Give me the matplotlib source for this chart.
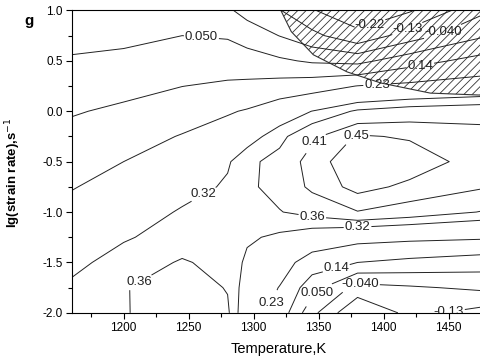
import matplotlib
matplotlib.use('Agg')
import matplotlib.pyplot as plt
from matplotlib.ticker import MultipleLocator, FormatStrFormatter
import numpy as np

plt.rcParams['font.family'] = ['Liberation Sans', 'DejaVu Sans']
plt.rcParams['axes.unicode_minus'] = False
plt.rcParams['hatch.linewidth'] = 0.6

# grid of the map: temperature (K) columns, lg(strain rate) rows
temperature = [1160, 1200, 1245, 1280, 1295, 1320, 1345, 1380, 1420, 1475]
lg_rate = [-2.0, -1.75, -1.5, -1.25, -1.0, -0.75, -0.5, -0.25, 0.0, 0.25, 0.5, 0.75, 1.0]

# g values, one list per strain-rate row
g_m200 = [0.345, 0.356, 0.392, 0.368, 0.278, 0.200, -0.014, -0.220, -0.104, -0.161]
g_m175 = [0.330, 0.357, 0.386, 0.357, 0.294, 0.227, 0.089, -0.073, -0.051, -0.024]
g_m150 = [0.305, 0.343, 0.363, 0.350, 0.310, 0.268, 0.189, 0.140, 0.119, 0.095]
g_m125 = [0.279, 0.314, 0.344, 0.342, 0.327, 0.311, 0.289, 0.262, 0.251, 0.242]
g_m100 = [0.253, 0.286, 0.326, 0.334, 0.342, 0.358, 0.376, 0.408, 0.389, 0.358]
g_m075 = [0.226, 0.258, 0.298, 0.327, 0.352, 0.375, 0.420, 0.465, 0.440, 0.415]
g_m050 = [0.196, 0.230, 0.266, 0.314, 0.350, 0.375, 0.430, 0.480, 0.475, 0.430]
g_m025 = [0.165, 0.193, 0.235, 0.269, 0.296, 0.347, 0.400, 0.455, 0.445, 0.425]
g_p000 = [0.133, 0.155, 0.188, 0.222, 0.237, 0.282, 0.321, 0.367, 0.384, 0.393]
g_p025 = [0.096, 0.114, 0.139, 0.153, 0.159, 0.175, 0.193, 0.232, 0.250, 0.268]
g_p050 = [0.059, 0.071, 0.095, 0.097, 0.088, 0.064, 0.038, 0.024, 0.102, 0.172]
g_p075 = [0.022, 0.028, 0.050, 0.042, 0.013, -0.042, -0.104, -0.200, -0.085, 0.038]
g_p100 = [-0.015, -0.016, 0.006, -0.025, -0.074, -0.125, -0.215, -0.270, -0.230, -0.060]

levels = [-0.22, -0.13, -0.04, 0.05, 0.14, 0.23, 0.32, 0.36, 0.41, 0.45]
level_text = {-0.22: '-0.22', -0.13: '-0.13', -0.04: '-0.040', 0.05: '0.050',
              0.14: '0.14', 0.23: '0.23', 0.32: '0.32', 0.36: '0.36',
              0.41: '0.41', 0.45: '0.45'}

# where each contour label sits (level, T, lg)
label_level = [0.05, -0.22, -0.13, -0.04, 0.14, 0.23, 0.41, 0.45, 0.32,
               0.36, 0.36, 0.32, 0.14, 0.05, -0.04, -0.13, 0.23]
label_T = [1260, 1390, 1418, 1444, 1428, 1395, 1344, 1378, 1260,
           1208, 1345, 1380, 1362, 1342, 1382, 1450, 1303]
label_lg = [0.76, 0.84, 0.83, 0.83, 0.48, 0.28, -0.27, -0.21, -0.79,
            -1.6, -1.07, -1.15, -1.48, -1.70, -1.69, -1.97, -1.84]

# instability (hatched) domain outline
hatch_T = [1321, 1329, 1346, 1372, 1398, 1436, 1475, 1475]
hatch_lg = [1.0, 0.79, 0.56, 0.39, 0.28, 0.18, 0.16, 1.0]

g = np.array([g_m200, g_m175, g_m150, g_m125, g_m100, g_m075, g_m050,
              g_m025, g_p000, g_p025, g_p050, g_p075, g_p100])

fig = plt.figure(figsize=(4.81, 3.6), dpi=100)
ax = fig.add_axes([0.149, 0.131, 0.851, 0.840])

# one contour set per level so each label snaps to its own line
for lev in levels:
    cs = ax.contour(temperature, lg_rate, g, levels=[lev], colors='#222222',
                    linewidths=0.7, linestyles='solid')
    spots = [(t, r) for l, t, r in zip(label_level, label_T, label_lg) if l == lev]
    if spots:
        cs.clabel(manual=spots, fmt=level_text, fontsize=9.5,
                  inline=True, inline_spacing=1)
for txt in ax.texts:
    txt.set_rotation(0)

ax.fill(hatch_T, hatch_lg, facecolor='none', edgecolor='#333333',
        hatch='////', linewidth=0.8)

ax.set_xlim(1160, 1475)
ax.set_ylim(-2.0, 1.0)
ax.xaxis.set_major_locator(MultipleLocator(50))
ax.xaxis.set_minor_locator(MultipleLocator(25))
ax.yaxis.set_major_locator(MultipleLocator(0.5))
ax.yaxis.set_minor_locator(MultipleLocator(0.25))
ax.yaxis.set_major_formatter(FormatStrFormatter('%.1f'))
ax.tick_params(which='both', direction='out', top=False, right=False,
               labelsize=8.5, width=0.8, pad=2.5)
ax.tick_params(which='major', length=4)
ax.tick_params(which='minor', length=3)
ax.spines['right'].set_visible(False)
for s in ['left', 'bottom', 'top']:
    ax.spines[s].set_linewidth(0.8)

ax.set_xlabel('Temperature,K', fontsize=10.5)
ax.xaxis.set_label_coords(0.506, -0.095)
ax.set_ylabel('lg(strain rate),s$^{-1}$', fontsize=9.5, fontweight='bold')
ax.yaxis.set_label_coords(-0.12, 0.462)
fig.text(0.061, 0.931, 'g', ha='center', va='baseline', fontsize=11,
         fontweight='bold')

fig.savefig('out.png', dpi=100)
